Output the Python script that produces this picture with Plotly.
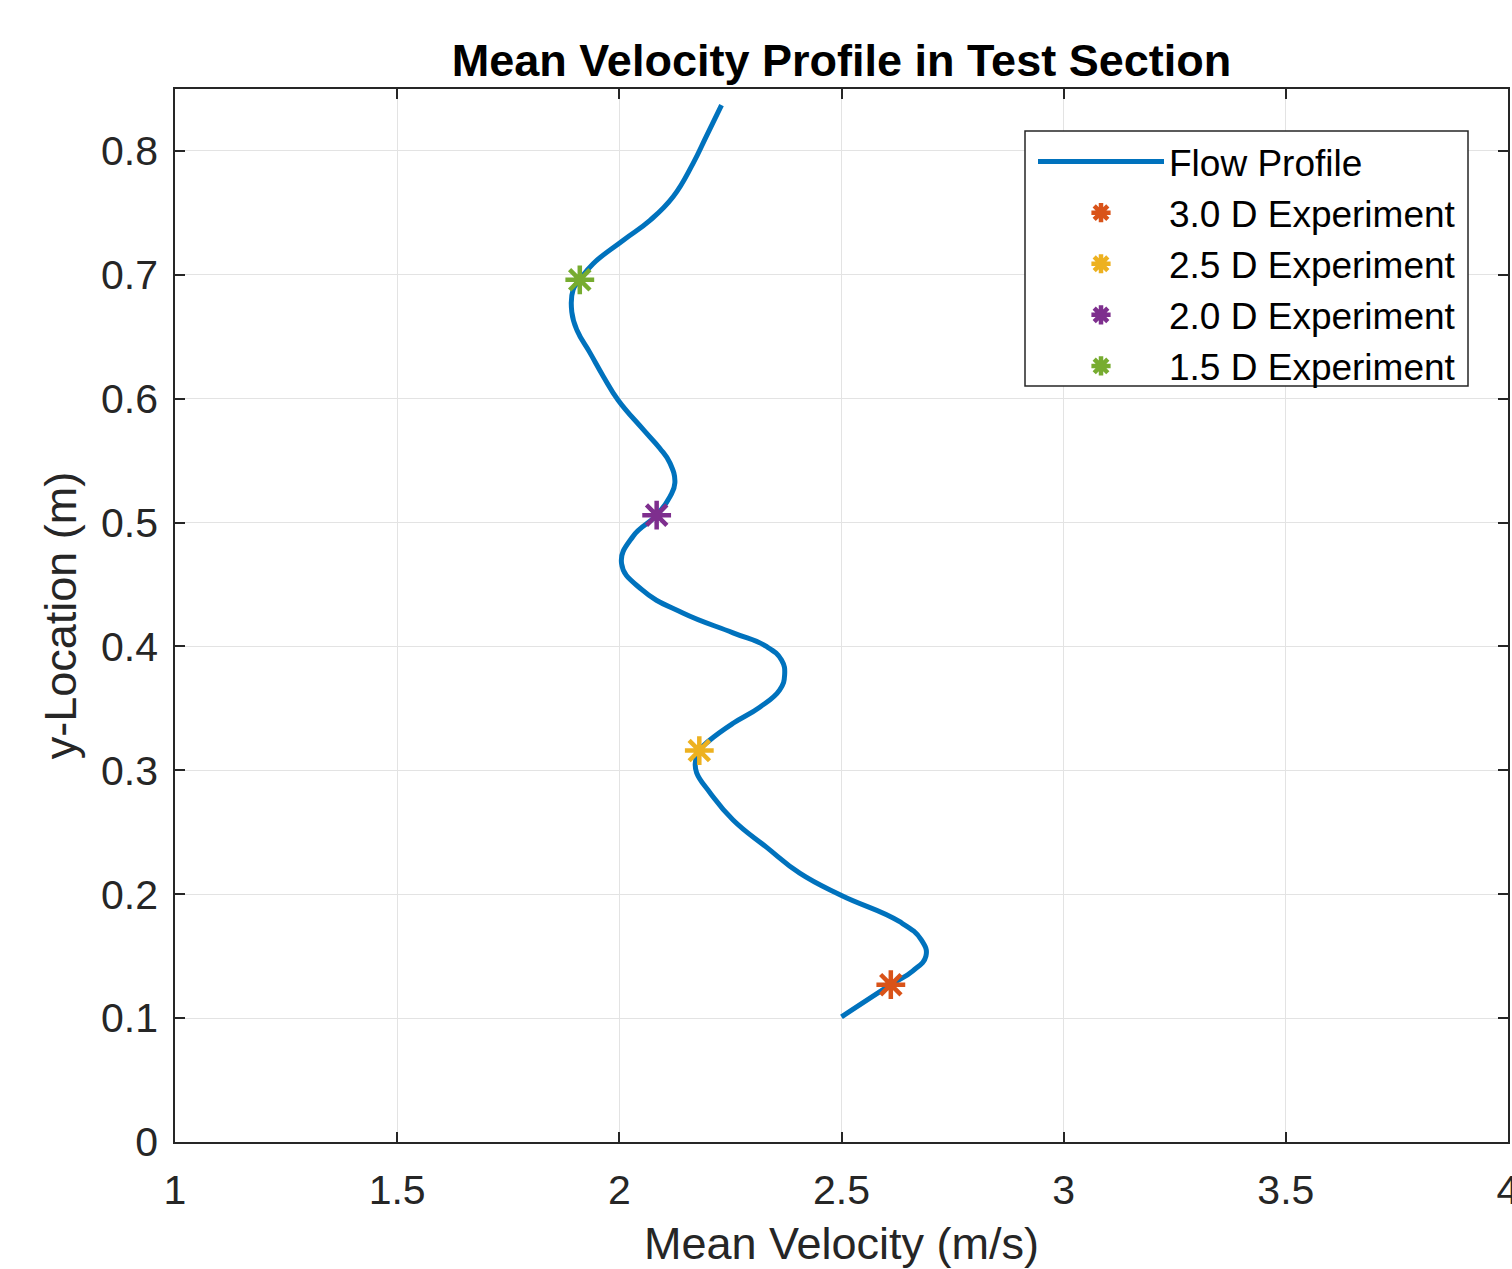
import plotly.graph_objects as go

# Flow profile
profile_y = [0.101, 0.127, 0.138, 0.150, 0.163, 0.178, 0.199, 0.217, 0.238, 0.260,
             0.282, 0.298, 0.306, 0.316, 0.3245, 0.338, 0.351, 0.365, 0.377, 0.389,
             0.400, 0.411, 0.427, 0.446, 0.467, 0.489, 0.506, 0.521, 0.532, 0.548,
             0.560, 0.575, 0.599, 0.618, 0.637, 0.655, 0.670, 0.688, 0.696, 0.709,
             0.728, 0.744, 0.763, 0.790, 0.812, 0.837]
profile_x = [2.500, 2.611, 2.660, 2.690, 2.680, 2.630, 2.500, 2.406, 2.331, 2.256,
             2.204, 2.174, 2.171, 2.180, 2.204, 2.256, 2.316, 2.361, 2.372, 2.365,
             2.331, 2.256, 2.143, 2.050, 2.005, 2.031, 2.084, 2.114, 2.125, 2.114,
             2.091, 2.054, 1.997, 1.964, 1.934, 1.905, 1.893, 1.896, 1.911, 1.941,
             2.009, 2.069, 2.121, 2.166, 2.196, 2.230]

# Experiments
exp_names = ["3.0 D Experiment", "2.5 D Experiment", "2.0 D Experiment", "1.5 D Experiment"]
exp_x = [2.611, 2.180, 2.084, 1.911]
exp_y = [0.127, 0.316, 0.506, 0.696]
exp_colors = ["#D95319", "#EDB120", "#7E2F8E", "#77AC30"]

x_ticks = [1, 1.5, 2, 2.5, 3, 3.5, 4]
y_ticks = [0, 0.1, 0.2, 0.3, 0.4, 0.5, 0.6, 0.7, 0.8]

FONT = "Liberation Sans, Arial, sans-serif"
AX = "#262626"

fig = go.Figure()
fig.add_trace(go.Scatter(x=profile_x, y=profile_y, mode="lines", name="Flow Profile",
                         line=dict(color="#0072BD", width=5, shape="spline", smoothing=1.3)))
for n, x, y, c in zip(exp_names, exp_x, exp_y, exp_colors):
    fig.add_trace(go.Scatter(x=[x], y=[y], mode="markers", name=n,
                             marker=dict(symbol="asterisk-open", size=24, color=c,
                                         line=dict(color=c, width=4.5))))

axis_common = dict(showline=True, linecolor=AX, linewidth=1.5, mirror="ticks",
                   ticks="inside", ticklen=10, tickwidth=1.5, tickcolor=AX,
                   showgrid=True, gridcolor="#E3E3E3", gridwidth=1, zeroline=False,
                   ticklabeloverflow="allow", automargin=False,
                   tickfont=dict(family=FONT, size=41, color=AX))

# legend frame (MATLAB style box)
fig.add_shape(type="rect", xref="paper", yref="paper",
              x0=(1025 - 175) / 1333, x1=(1468 - 175) / 1333,
              y0=(1142 - 386) / 1053, y1=(1142 - 131) / 1053,
              fillcolor="white", line=dict(color=AX, width=1.5), layer="above")

fig.update_layout(
    width=1512, height=1269,
    paper_bgcolor="white", plot_bgcolor="white",
    margin=dict(l=175, r=4, t=89, b=127, autoexpand=False),
    title=dict(text="<b>Mean Velocity Profile in Test Section</b>",
               font=dict(family=FONT, size=45, color="black"),
               x=(841.5 / 1512), xanchor="center", y=1 - 60 / 1269, yanchor="middle"),
    xaxis=dict(range=[1, 4], tickvals=x_ticks, ticktext=[str(v) for v in x_ticks],
               ticklabelstandoff=11,
               title=dict(text="Mean Velocity (m/s)", font=dict(family=FONT, size=45, color=AX),
                          standoff=19),
               **axis_common),
    yaxis=dict(range=[0, 0.85], tickvals=y_ticks, ticktext=[f"{v:g}" for v in y_ticks],
               ticklabelstandoff=7,
               title=dict(text="y-Location (m)", font=dict(family=FONT, size=45, color=AX),
                          standoff=10),
               **axis_common),
    legend=dict(x=(1033 - 175) / 1333, y=(1142 - 131) / 1053, xanchor="left", yanchor="top",
                bgcolor="rgba(0,0,0,0)", borderwidth=0,
                font=dict(family=FONT, size=37, color="black"), itemwidth=126,
                tracegroupgap=0),
    showlegend=True,
)

fig.write_html("out.html", config={"displayModeBar": False},
               post_script="document.body.style.margin='0';document.body.style.overflow='hidden';")
